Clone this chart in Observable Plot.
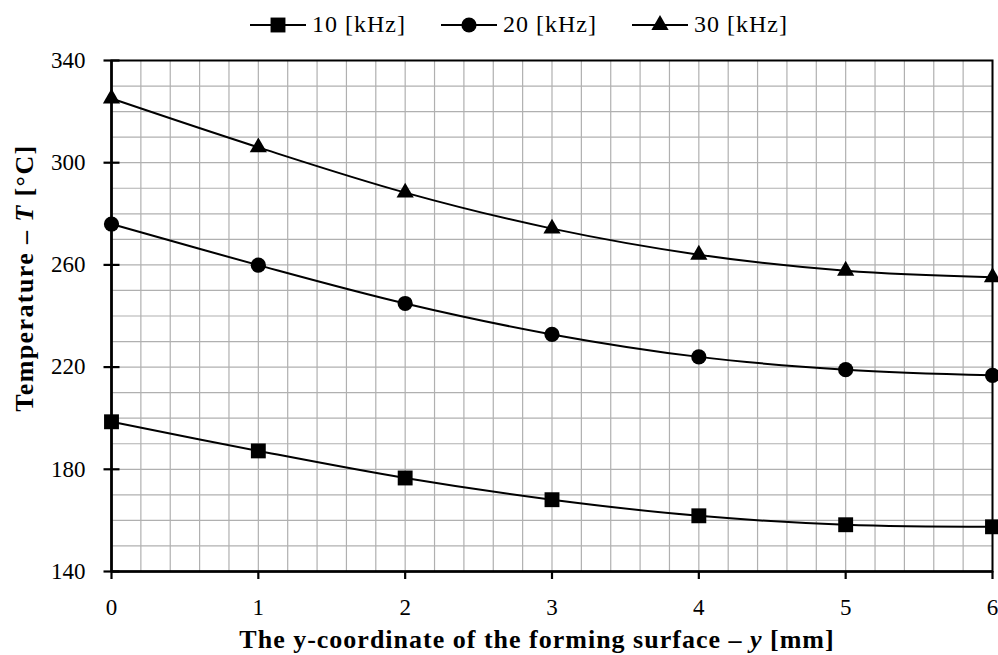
<!DOCTYPE html>
<html>
<head>
<meta charset="utf-8">
<script src="https://cdn.jsdelivr.net/npm/d3@7"></script>
<script src="https://cdn.jsdelivr.net/npm/@observablehq/plot@0.6"></script>
<style>
  html, body { margin: 0; padding: 0; background: #fff; }
  body { width: 998px; height: 655px; overflow: hidden; font-family: "Liberation Serif", serif; }
  #legend { position: relative; height: 45px; display: flex; justify-content: center; align-items: center; gap: 35px; padding-left: 40px; box-sizing: border-box; padding-top: 4px; }
  .item { display: flex; align-items: center; gap: 6px; font-size: 24px; letter-spacing: 1px; color: #000; font-family: "Liberation Serif", serif; }
  .item svg { display: block; }
  #chart svg { display: block; }
  #chart svg text, #chart svg tspan { font-family: "Liberation Serif", serif; }
</style>
</head>
<body>
<div id="legend"></div>
<div id="chart"></div>
<script>
// Distance from the forming surface, y [mm]
const positions = [0, 1, 2, 3, 4, 5, 6];
// Temperature T [°C] for each frequency
const temp10kHz = [198.6, 187.2, 176.6, 168.1, 161.8, 158.3, 157.5];
const temp20kHz = [276.0, 259.9, 244.9, 232.8, 224.0, 219.0, 216.8];
const temp30kHz = [325.1, 306.0, 288.3, 274.2, 264.0, 257.7, 255.2];
const seriesNames = ["10 [kHz]", "20 [kHz]", "30 [kHz]"];
const seriesSymbols = ["square", "circle", "triangle"];
const xTicks = [0, 1, 2, 3, 4, 5, 6];
const yTicks = [140, 180, 220, 260, 300, 340];

const seriesValues = [temp10kHz, temp20kHz, temp30kHz];
const seriesRows = seriesValues.map((vals, i) =>
  positions.map((p, j) => ({ pos: p, temp: vals[j], series: seriesNames[i] }))
);

// marker radii chosen so the three symbols read at similar size
const symbolR = { square: 8.4, circle: 7.6, triangle: 6.4 };

// short horizontal stroke used as a cross tick on the left axis
const crossTick = {
  draw(ctx) { ctx.moveTo(-8, 0); ctx.lineTo(8, 0); }
};

const minorX = d3.range(0, 6.0001, 0.2);
const minorY = d3.range(140, 340.001, 10);

const FONT = "'Liberation Serif', serif";

const chart = Plot.plot({
  width: 998,
  height: 610,
  marginLeft: 111,
  marginRight: 6,
  marginTop: 15,
  marginBottom: 84,
  style: { fontFamily: FONT, background: "#fff", overflow: "visible" },
  x: { domain: [0, 6] },
  y: { domain: [140, 340] },
  marks: [
    Plot.ruleX(minorX, { stroke: "#b0b0b0", strokeWidth: 1.2 }),
    Plot.ruleY(minorY, { stroke: "#b0b0b0", strokeWidth: 1.2 }),
    Plot.frame({ stroke: "#000", strokeWidth: 2 }),
    Plot.axisX({ ticks: xTicks, tickSize: 8, tickPadding: 19, tickFormat: d3.format("d"), fontSize: 23, fontFamily: FONT, label: null, strokeWidth: 2.2 }),
    Plot.axisY({ ticks: yTicks, tickSize: 0, tickPadding: 26, tickFormat: d3.format("d"), fontSize: 23, fontFamily: FONT, label: null }),
    Plot.dot(yTicks, { y: d => d, frameAnchor: "left", symbol: crossTick, stroke: "#000", strokeWidth: 2.2, r: 1 }),
    Plot.ruleX([0], { stroke: "#000", strokeWidth: 2.6 }),
    Plot.ruleY([140], { stroke: "#000", strokeWidth: 2.6 }),
    ...seriesRows.map(rows =>
      Plot.line(rows, { x: "pos", y: "temp", stroke: "#000", strokeWidth: 2, curve: "catmull-rom" })
    ),
    ...seriesRows.map((rows, i) =>
      Plot.dot(rows, { x: "pos", y: "temp", symbol: seriesSymbols[i], r: symbolR[seriesSymbols[i]], fill: "#000", stroke: "none", clip: false })
    )
  ]
});
document.getElementById("chart").appendChild(chart);

// Axis titles with italic variable names
const svg = d3.select(chart);
const xt = svg.append("text")
  .attr("x", 537).attr("y", 603)
  .attr("text-anchor", "middle")
  .style("font-family", FONT).style("font-size", "26px").style("letter-spacing", "1px")
  .attr("font-weight", "bold").attr("fill", "#000");
xt.append("tspan").text("The y-coordinate of the forming surface – ");
xt.append("tspan").attr("font-style", "italic").text("y");
xt.append("tspan").text(" [mm]");

const yt = svg.append("text")
  .attr("transform", "translate(33,233) rotate(-90)")
  .attr("text-anchor", "middle")
  .style("font-family", FONT).style("font-size", "26px").style("letter-spacing", "1.4px")
  .attr("font-weight", "bold").attr("fill", "#000");
yt.append("tspan").text("Temperature – ");
yt.append("tspan").attr("font-style", "italic").text("T");
yt.append("tspan").text(" [°C]");

// Legend: line with marker, then series name
const legend = d3.select("#legend");
seriesNames.forEach((name, i) => {
  const item = legend.append("div").attr("class", "item");
  const s = item.append("svg").attr("width", 56).attr("height", 22);
  s.append("line").attr("x1", 0).attr("x2", 56).attr("y1", 11).attr("y2", 11).attr("stroke", "#000").attr("stroke-width", 2);
  const sym = { square: d3.symbolSquare, circle: d3.symbolCircle, triangle: d3.symbolTriangle }[seriesSymbols[i]];
  const r = symbolR[seriesSymbols[i]];
  s.append("path").attr("transform", "translate(28,11)")
    .attr("d", d3.symbol(sym, Math.PI * r * r)()).attr("fill", "#000");
  item.append("span").text(name);
});
</script>
</body>
</html>
